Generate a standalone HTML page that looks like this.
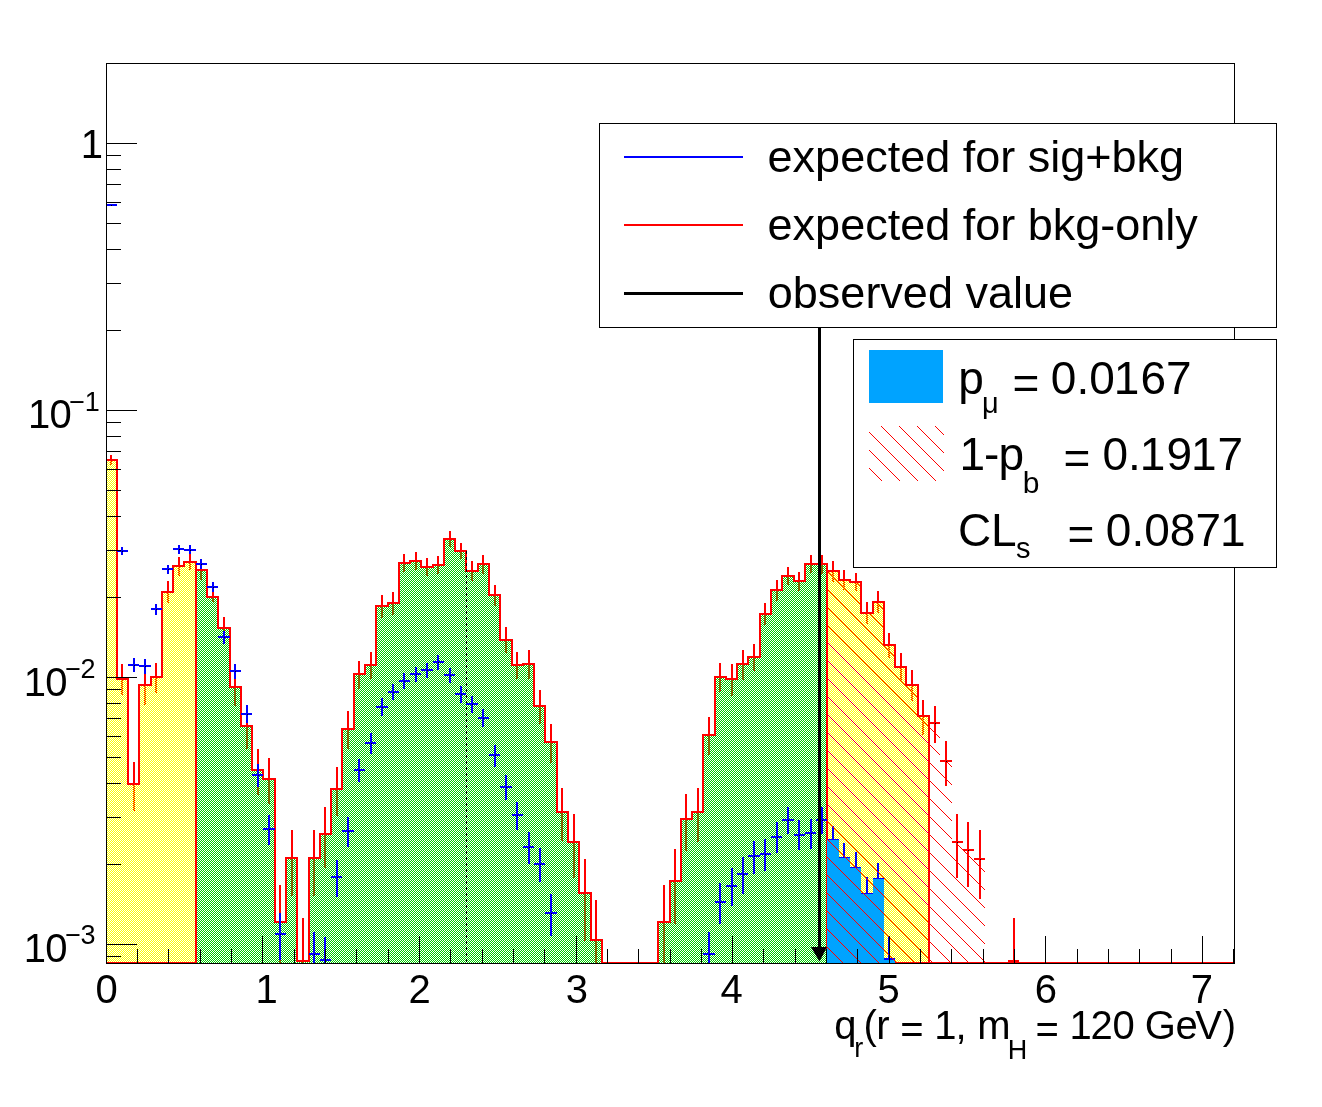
<!DOCTYPE html><html><head><meta charset="utf-8"><style>html,body{margin:0;padding:0;background:#fff;overflow:hidden;}svg{display:block;will-change:transform;} text{font-family:"Liberation Sans",sans-serif;}</style></head><body>
<svg width="1322" height="1107" viewBox="0 0 1322 1107">
<defs>
<pattern id="pg" patternUnits="userSpaceOnUse" x="0" y="0" width="2" height="2"><rect x="1" y="0" width="1" height="1" fill="#00cc00"/><rect x="0" y="1" width="1" height="1" fill="#00cc00"/></pattern>
<pattern id="py" patternUnits="userSpaceOnUse" x="0" y="0" width="2" height="2"><rect x="1" y="0" width="1" height="1" fill="#ffff00"/><rect x="0" y="1" width="1" height="1" fill="#ffff00"/></pattern>
<pattern id="ph" patternUnits="userSpaceOnUse" x="0" y="0" width="18" height="18"><rect x="0" y="13" width="1" height="1" fill="#f00"/><rect x="1" y="14" width="1" height="1" fill="#f00"/><rect x="2" y="15" width="1" height="1" fill="#f00"/><rect x="3" y="16" width="1" height="1" fill="#f00"/><rect x="4" y="17" width="1" height="1" fill="#f00"/><rect x="5" y="0" width="1" height="1" fill="#f00"/><rect x="6" y="1" width="1" height="1" fill="#f00"/><rect x="7" y="2" width="1" height="1" fill="#f00"/><rect x="8" y="3" width="1" height="1" fill="#f00"/><rect x="9" y="4" width="1" height="1" fill="#f00"/><rect x="10" y="5" width="1" height="1" fill="#f00"/><rect x="11" y="6" width="1" height="1" fill="#f00"/><rect x="12" y="7" width="1" height="1" fill="#f00"/><rect x="13" y="8" width="1" height="1" fill="#f00"/><rect x="14" y="9" width="1" height="1" fill="#f00"/><rect x="15" y="10" width="1" height="1" fill="#f00"/><rect x="16" y="11" width="1" height="1" fill="#f00"/><rect x="17" y="12" width="1" height="1" fill="#f00"/></pattern>
<clipPath id="hclip"><polygon points="827,963 827,571 839,571 839,580 850,580 850,582 861,582 861,613 873,613 873,602 884,602 884,645 895,645 895,667 906,667 906,685 918,685 918,716 929,716 929,723 940,723 940,761 952,761 952,842 963,842 963,850 974,850 974,859 985,859 985,963"/></clipPath>
<clipPath id="legclip"><rect x="869" y="426" width="75" height="55"/></clipPath>
</defs>
<rect x="0" y="0" width="1322" height="1107" fill="#fff"/>
<g shape-rendering="crispEdges">
<rect x="110" y="455" width="2" height="10" fill="#f00"/>
<rect x="121" y="664" width="2" height="31" fill="#f00"/>
<rect x="133" y="762" width="2" height="49" fill="#f00"/>
<rect x="144" y="668" width="2" height="37" fill="#f00"/>
<rect x="155" y="663" width="2" height="30" fill="#f00"/>
<rect x="167" y="581" width="2" height="22" fill="#f00"/>
<rect x="178" y="557" width="2" height="19" fill="#f00"/>
<rect x="189" y="554" width="2" height="16" fill="#f00"/>
<rect x="200" y="561" width="2" height="19" fill="#f00"/>
<rect x="212" y="592" width="2" height="10" fill="#f00"/>
<rect x="223" y="617" width="2" height="23" fill="#f00"/>
<rect x="234" y="670" width="2" height="36" fill="#f00"/>
<rect x="246" y="706" width="2" height="43" fill="#f00"/>
<rect x="257" y="749" width="2" height="46" fill="#f00"/>
<rect x="268" y="758" width="2" height="46" fill="#f00"/>
<rect x="279" y="885" width="2" height="78" fill="#f00"/>
<rect x="291" y="830" width="2" height="66" fill="#f00"/>
<rect x="302" y="918" width="2" height="45" fill="#f00"/>
<rect x="313" y="830" width="2" height="66" fill="#f00"/>
<rect x="324" y="807" width="2" height="61" fill="#f00"/>
<rect x="336" y="767" width="2" height="49" fill="#f00"/>
<rect x="347" y="711" width="2" height="38" fill="#f00"/>
<rect x="358" y="661" width="2" height="28" fill="#f00"/>
<rect x="370" y="652" width="2" height="27" fill="#f00"/>
<rect x="381" y="595" width="2" height="23" fill="#f00"/>
<rect x="392" y="592" width="2" height="23" fill="#f00"/>
<rect x="403" y="554" width="2" height="18" fill="#f00"/>
<rect x="415" y="552" width="2" height="18" fill="#f00"/>
<rect x="426" y="558" width="2" height="18" fill="#f00"/>
<rect x="437" y="556" width="2" height="18" fill="#f00"/>
<rect x="449" y="531" width="2" height="16" fill="#f00"/>
<rect x="460" y="543" width="2" height="16" fill="#f00"/>
<rect x="471" y="561" width="2" height="20" fill="#f00"/>
<rect x="482" y="555" width="2" height="19" fill="#f00"/>
<rect x="494" y="585" width="2" height="21" fill="#f00"/>
<rect x="505" y="627" width="2" height="26" fill="#f00"/>
<rect x="516" y="652" width="2" height="27" fill="#f00"/>
<rect x="528" y="650" width="2" height="29" fill="#f00"/>
<rect x="539" y="690" width="2" height="34" fill="#f00"/>
<rect x="550" y="724" width="2" height="39" fill="#f00"/>
<rect x="561" y="788" width="2" height="53" fill="#f00"/>
<rect x="573" y="814" width="2" height="64" fill="#f00"/>
<rect x="584" y="859" width="2" height="82" fill="#f00"/>
<rect x="595" y="900" width="2" height="63" fill="#f00"/>
<rect x="663" y="885" width="2" height="78" fill="#f00"/>
<rect x="674" y="849" width="2" height="75" fill="#f00"/>
<rect x="685" y="794" width="2" height="57" fill="#f00"/>
<rect x="697" y="788" width="2" height="54" fill="#f00"/>
<rect x="708" y="717" width="2" height="38" fill="#f00"/>
<rect x="719" y="663" width="2" height="29" fill="#f00"/>
<rect x="731" y="664" width="2" height="32" fill="#f00"/>
<rect x="742" y="650" width="2" height="30" fill="#f00"/>
<rect x="753" y="644" width="2" height="27" fill="#f00"/>
<rect x="764" y="603" width="2" height="22" fill="#f00"/>
<rect x="776" y="580" width="2" height="21" fill="#f00"/>
<rect x="787" y="567" width="2" height="18" fill="#f00"/>
<rect x="798" y="572" width="2" height="19" fill="#f00"/>
<rect x="810" y="555" width="2" height="18" fill="#f00"/>
<rect x="821" y="555" width="2" height="19" fill="#f00"/>
<rect x="832" y="561" width="2" height="21" fill="#f00"/>
<rect x="843" y="570" width="2" height="20" fill="#f00"/>
<rect x="855" y="573" width="2" height="18" fill="#f00"/>
<rect x="866" y="602" width="2" height="22" fill="#f00"/>
<rect x="877" y="591" width="2" height="22" fill="#f00"/>
<rect x="888" y="633" width="2" height="25" fill="#f00"/>
<rect x="900" y="653" width="2" height="29" fill="#f00"/>
<rect x="911" y="670" width="2" height="31" fill="#f00"/>
<rect x="922" y="700" width="2" height="35" fill="#f00"/>
<polygon points="106,963 106,460 117,460 117,679 128,679 128,784 139,784 139,685 151,685 151,677 162,677 162,592 173,592 173,566 184,566 184,562 196,562 196,963" fill="url(#py)"/>
<polygon points="196,963 196,570 207,570 207,597 218,597 218,628 230,628 230,687 241,687 241,726 252,726 252,770 263,770 263,779 275,779 275,922 286,922 286,858 297,858 297,961 309,961 309,858 320,858 320,834 331,834 331,789 342,789 342,729 354,729 354,674 365,674 365,665 376,665 376,606 388,606 388,603 399,603 399,563 410,563 410,561 421,561 421,567 433,567 433,565 444,565 444,539 455,539 455,551 466,551 466,571 478,571 478,564 489,564 489,595 500,595 500,640 512,640 512,665 523,665 523,664 534,664 534,706 545,706 545,742 557,742 557,812 568,812 568,842 579,842 579,893 591,893 591,940 602,940 602,963 613,963 613,963 624,963 624,963 636,963 636,963 647,963 647,963 658,963 658,922 670,922 670,881 681,881 681,819 692,819 692,812 703,812 703,735 715,735 715,677 726,677 726,679 737,679 737,664 748,664 748,657 760,657 760,614 771,614 771,590 782,590 782,576 794,576 794,581 805,581 805,564 816,564 816,564 827,564 827,963" fill="url(#pg)"/>
<polygon points="827,963 827,571 839,571 839,580 850,580 850,582 861,582 861,613 873,613 873,602 884,602 884,645 895,645 895,667 906,667 906,685 918,685 918,716 929,716 929,963" fill="url(#py)"/>
<path d="M106,460 L117,460 L117,679 L128,679 L128,784 L139,784 L139,685 L151,685 L151,677 L162,677 L162,592 L173,592 L173,566 L184,566 L184,562 L196,562 L196,570 L207,570 L207,597 L218,597 L218,628 L230,628 L230,687 L241,687 L241,726 L252,726 L252,770 L263,770 L263,779 L275,779 L275,922 L286,922 L286,858 L297,858 L297,961 L309,961 L309,858 L320,858 L320,834 L331,834 L331,789 L342,789 L342,729 L354,729 L354,674 L365,674 L365,665 L376,665 L376,606 L388,606 L388,603 L399,603 L399,563 L410,563 L410,561 L421,561 L421,567 L433,567 L433,565 L444,565 L444,539 L455,539 L455,551 L466,551 L466,571 L478,571 L478,564 L489,564 L489,595 L500,595 L500,640 L512,640 L512,665 L523,665 L523,664 L534,664 L534,706 L545,706 L545,742 L557,742 L557,812 L568,812 L568,842 L579,842 L579,893 L591,893 L591,940 L602,940 L602,963 L613,963 L613,963 L624,963 L624,963 L636,963 L636,963 L647,963 L647,963 L658,963 L658,922 L670,922 L670,881 L681,881 L681,819 L692,819 L692,812 L703,812 L703,735 L715,735 L715,677 L726,677 L726,679 L737,679 L737,664 L748,664 L748,657 L760,657 L760,614 L771,614 L771,590 L782,590 L782,576 L794,576 L794,581 L805,581 L805,564 L816,564 L816,564 L827,564 L827,571 L839,571 L839,580 L850,580 L850,582 L861,582 L861,613 L873,613 L873,602 L884,602 L884,645 L895,645 L895,667 L906,667 L906,685 L918,685 L918,716 L929,716 L929,963 L940,963 L940,963 L952,963 L952,963 L963,963 L963,963 L974,963 L974,963 L985,963 L985,963 L997,963 L997,963 L1008,963 L1008,963 L1019,963 L1019,963 L1030,963 L1030,963 L1042,963 L1042,963 L1053,963 L1053,963 L1064,963 L1064,963 L1076,963 L1076,963 L1087,963 L1087,963 L1098,963 L1098,963 L1109,963 L1109,963 L1121,963 L1121,963 L1132,963 L1132,963 L1143,963 L1143,963 L1155,963 L1155,963 L1166,963 L1166,963 L1177,963 L1177,963 L1188,963 L1188,963 L1200,963 L1200,963 L1211,963 L1211,963 L1222,963 L1222,963 L1234,963" fill="none" stroke="#f00" stroke-width="2"/>
<rect x="195" y="562" width="2" height="401" fill="#f00"/>
<rect x="826" y="571" width="2" height="392" fill="#f00"/>
<rect x="827" y="962" width="102" height="1" fill="#f00"/>
<rect x="106" y="962" width="90" height="1" fill="#f00"/>
<line x1="466.5" y1="551" x2="466.5" y2="963" stroke="#000" stroke-width="1" stroke-dasharray="3,3"/>
<rect x="121" y="547" width="2" height="8" fill="#00f"/>
<rect x="117" y="550" width="11" height="2" fill="#00f"/>
<rect x="133" y="658" width="2" height="14" fill="#00f"/>
<rect x="128" y="664" width="11" height="2" fill="#00f"/>
<rect x="144" y="659" width="2" height="15" fill="#00f"/>
<rect x="139" y="665" width="12" height="2" fill="#00f"/>
<rect x="155" y="604" width="2" height="11" fill="#00f"/>
<rect x="151" y="608" width="11" height="2" fill="#00f"/>
<rect x="167" y="565" width="2" height="9" fill="#00f"/>
<rect x="162" y="568" width="11" height="2" fill="#00f"/>
<rect x="178" y="545" width="2" height="9" fill="#00f"/>
<rect x="173" y="548" width="11" height="2" fill="#00f"/>
<rect x="189" y="545" width="2" height="9" fill="#00f"/>
<rect x="184" y="549" width="12" height="2" fill="#00f"/>
<rect x="200" y="559" width="2" height="10" fill="#00f"/>
<rect x="196" y="563" width="11" height="2" fill="#00f"/>
<rect x="212" y="582" width="2" height="10" fill="#00f"/>
<rect x="207" y="586" width="11" height="2" fill="#00f"/>
<rect x="223" y="631" width="2" height="13" fill="#00f"/>
<rect x="218" y="636" width="12" height="2" fill="#00f"/>
<rect x="234" y="664" width="2" height="15" fill="#00f"/>
<rect x="230" y="670" width="11" height="2" fill="#00f"/>
<rect x="246" y="705" width="2" height="18" fill="#00f"/>
<rect x="241" y="713" width="11" height="2" fill="#00f"/>
<rect x="257" y="764" width="2" height="23" fill="#00f"/>
<rect x="252" y="774" width="11" height="2" fill="#00f"/>
<rect x="268" y="815" width="2" height="30" fill="#00f"/>
<rect x="263" y="828" width="12" height="2" fill="#00f"/>
<rect x="279" y="913" width="2" height="47" fill="#00f"/>
<rect x="275" y="933" width="11" height="2" fill="#00f"/>
<rect x="313" y="932" width="2" height="31" fill="#00f"/>
<rect x="309" y="953" width="11" height="2" fill="#00f"/>
<rect x="324" y="937" width="2" height="26" fill="#00f"/>
<rect x="320" y="959" width="11" height="2" fill="#00f"/>
<rect x="336" y="860" width="2" height="37" fill="#00f"/>
<rect x="331" y="876" width="11" height="2" fill="#00f"/>
<rect x="347" y="817" width="2" height="30" fill="#00f"/>
<rect x="342" y="830" width="12" height="2" fill="#00f"/>
<rect x="358" y="759" width="2" height="23" fill="#00f"/>
<rect x="354" y="769" width="11" height="2" fill="#00f"/>
<rect x="370" y="733" width="2" height="21" fill="#00f"/>
<rect x="365" y="742" width="11" height="2" fill="#00f"/>
<rect x="381" y="698" width="2" height="18" fill="#00f"/>
<rect x="376" y="706" width="12" height="2" fill="#00f"/>
<rect x="392" y="684" width="2" height="16" fill="#00f"/>
<rect x="388" y="691" width="11" height="2" fill="#00f"/>
<rect x="403" y="673" width="2" height="16" fill="#00f"/>
<rect x="399" y="680" width="11" height="2" fill="#00f"/>
<rect x="415" y="667" width="2" height="15" fill="#00f"/>
<rect x="410" y="673" width="11" height="2" fill="#00f"/>
<rect x="426" y="663" width="2" height="15" fill="#00f"/>
<rect x="421" y="669" width="12" height="2" fill="#00f"/>
<rect x="437" y="655" width="2" height="15" fill="#00f"/>
<rect x="433" y="661" width="11" height="2" fill="#00f"/>
<rect x="449" y="668" width="2" height="15" fill="#00f"/>
<rect x="444" y="674" width="11" height="2" fill="#00f"/>
<rect x="460" y="686" width="2" height="17" fill="#00f"/>
<rect x="455" y="693" width="11" height="2" fill="#00f"/>
<rect x="471" y="696" width="2" height="17" fill="#00f"/>
<rect x="466" y="703" width="12" height="2" fill="#00f"/>
<rect x="482" y="709" width="2" height="18" fill="#00f"/>
<rect x="478" y="717" width="11" height="2" fill="#00f"/>
<rect x="494" y="745" width="2" height="22" fill="#00f"/>
<rect x="489" y="754" width="11" height="2" fill="#00f"/>
<rect x="505" y="775" width="2" height="25" fill="#00f"/>
<rect x="500" y="786" width="12" height="2" fill="#00f"/>
<rect x="516" y="802" width="2" height="28" fill="#00f"/>
<rect x="512" y="814" width="11" height="2" fill="#00f"/>
<rect x="528" y="832" width="2" height="32" fill="#00f"/>
<rect x="523" y="846" width="11" height="2" fill="#00f"/>
<rect x="539" y="848" width="2" height="34" fill="#00f"/>
<rect x="534" y="863" width="11" height="2" fill="#00f"/>
<rect x="550" y="894" width="2" height="42" fill="#00f"/>
<rect x="545" y="912" width="12" height="2" fill="#00f"/>
<rect x="708" y="932" width="2" height="31" fill="#00f"/>
<rect x="703" y="953" width="12" height="2" fill="#00f"/>
<rect x="719" y="883" width="2" height="41" fill="#00f"/>
<rect x="715" y="901" width="11" height="2" fill="#00f"/>
<rect x="731" y="868" width="2" height="38" fill="#00f"/>
<rect x="726" y="885" width="11" height="2" fill="#00f"/>
<rect x="742" y="857" width="2" height="37" fill="#00f"/>
<rect x="737" y="873" width="11" height="2" fill="#00f"/>
<rect x="753" y="841" width="2" height="33" fill="#00f"/>
<rect x="748" y="855" width="12" height="2" fill="#00f"/>
<rect x="764" y="839" width="2" height="32" fill="#00f"/>
<rect x="760" y="853" width="11" height="2" fill="#00f"/>
<rect x="776" y="822" width="2" height="31" fill="#00f"/>
<rect x="771" y="836" width="11" height="2" fill="#00f"/>
<rect x="787" y="807" width="2" height="27" fill="#00f"/>
<rect x="782" y="819" width="12" height="2" fill="#00f"/>
<rect x="798" y="820" width="2" height="30" fill="#00f"/>
<rect x="794" y="834" width="11" height="2" fill="#00f"/>
<rect x="810" y="819" width="2" height="30" fill="#00f"/>
<rect x="805" y="832" width="11" height="2" fill="#00f"/>
<rect x="821" y="807" width="2" height="27" fill="#00f"/>
<rect x="816" y="819" width="11" height="2" fill="#00f"/>
<rect x="832" y="826" width="2" height="30" fill="#00f"/>
<rect x="827" y="839" width="12" height="2" fill="#00f"/>
<rect x="843" y="843" width="2" height="33" fill="#00f"/>
<rect x="839" y="857" width="11" height="2" fill="#00f"/>
<rect x="855" y="852" width="2" height="35" fill="#00f"/>
<rect x="850" y="867" width="11" height="2" fill="#00f"/>
<rect x="866" y="877" width="2" height="36" fill="#00f"/>
<rect x="861" y="893" width="12" height="2" fill="#00f"/>
<rect x="877" y="863" width="2" height="34" fill="#00f"/>
<rect x="873" y="878" width="11" height="2" fill="#00f"/>
<rect x="888" y="936" width="2" height="27" fill="#00f"/>
<rect x="884" y="958" width="11" height="2" fill="#00f"/>
<rect x="106" y="204" width="11" height="2" fill="#00f"/>
<rect x="122" y="551" width="1" height="1" fill="#000"/>
<rect x="134" y="665" width="1" height="1" fill="#000"/>
<rect x="145" y="666" width="1" height="1" fill="#000"/>
<rect x="156" y="609" width="1" height="1" fill="#000"/>
<rect x="168" y="569" width="1" height="1" fill="#000"/>
<rect x="179" y="549" width="1" height="1" fill="#000"/>
<rect x="190" y="550" width="1" height="1" fill="#000"/>
<rect x="201" y="564" width="1" height="1" fill="#000"/>
<rect x="213" y="587" width="1" height="1" fill="#000"/>
<rect x="224" y="637" width="1" height="1" fill="#000"/>
<rect x="235" y="671" width="1" height="1" fill="#000"/>
<rect x="247" y="714" width="1" height="1" fill="#000"/>
<rect x="258" y="775" width="1" height="1" fill="#000"/>
<rect x="269" y="829" width="1" height="1" fill="#000"/>
<rect x="280" y="934" width="1" height="1" fill="#000"/>
<rect x="314" y="954" width="1" height="1" fill="#000"/>
<rect x="325" y="960" width="1" height="1" fill="#000"/>
<rect x="337" y="877" width="1" height="1" fill="#000"/>
<rect x="348" y="831" width="1" height="1" fill="#000"/>
<rect x="359" y="770" width="1" height="1" fill="#000"/>
<rect x="371" y="743" width="1" height="1" fill="#000"/>
<rect x="382" y="707" width="1" height="1" fill="#000"/>
<rect x="393" y="692" width="1" height="1" fill="#000"/>
<rect x="404" y="681" width="1" height="1" fill="#000"/>
<rect x="416" y="674" width="1" height="1" fill="#000"/>
<rect x="427" y="670" width="1" height="1" fill="#000"/>
<rect x="438" y="662" width="1" height="1" fill="#000"/>
<rect x="450" y="675" width="1" height="1" fill="#000"/>
<rect x="461" y="694" width="1" height="1" fill="#000"/>
<rect x="472" y="704" width="1" height="1" fill="#000"/>
<rect x="483" y="718" width="1" height="1" fill="#000"/>
<rect x="495" y="755" width="1" height="1" fill="#000"/>
<rect x="506" y="787" width="1" height="1" fill="#000"/>
<rect x="517" y="815" width="1" height="1" fill="#000"/>
<rect x="529" y="847" width="1" height="1" fill="#000"/>
<rect x="540" y="864" width="1" height="1" fill="#000"/>
<rect x="551" y="913" width="1" height="1" fill="#000"/>
<rect x="709" y="954" width="1" height="1" fill="#000"/>
<rect x="720" y="902" width="1" height="1" fill="#000"/>
<rect x="732" y="886" width="1" height="1" fill="#000"/>
<rect x="743" y="874" width="1" height="1" fill="#000"/>
<rect x="754" y="856" width="1" height="1" fill="#000"/>
<rect x="765" y="854" width="1" height="1" fill="#000"/>
<rect x="777" y="837" width="1" height="1" fill="#000"/>
<rect x="788" y="820" width="1" height="1" fill="#000"/>
<rect x="799" y="835" width="1" height="1" fill="#000"/>
<rect x="811" y="833" width="1" height="1" fill="#000"/>
<rect x="822" y="820" width="1" height="1" fill="#000"/>
<rect x="833" y="840" width="1" height="1" fill="#000"/>
<rect x="844" y="858" width="1" height="1" fill="#000"/>
<rect x="856" y="868" width="1" height="1" fill="#000"/>
<rect x="867" y="894" width="1" height="1" fill="#000"/>
<rect x="878" y="879" width="1" height="1" fill="#000"/>
<rect x="889" y="959" width="1" height="1" fill="#000"/>
<rect x="111" y="205" width="1" height="1" fill="#000"/>
<polygon points="827,963 827,840 839,840 839,858 850,858 850,868 861,868 861,894 873,894 873,879 884,879 884,960 895,960 895,963" fill="#00a3ff"/>
</g>
<g clip-path="url(#hclip)" shape-rendering="crispEdges" fill="#f00">
<polygon points="820,169.5 1000,349.5 1000,350.5 820,170.5"/>
<polygon points="820,187.5 1000,367.5 1000,368.5 820,188.5"/>
<polygon points="820,205.5 1000,385.5 1000,386.5 820,206.5"/>
<polygon points="820,223.5 1000,403.5 1000,404.5 820,224.5"/>
<polygon points="820,241.5 1000,421.5 1000,422.5 820,242.5"/>
<polygon points="820,259.5 1000,439.5 1000,440.5 820,260.5"/>
<polygon points="820,276.5 1000,456.5 1000,457.5 820,277.5"/>
<polygon points="820,294.5 1000,474.5 1000,475.5 820,295.5"/>
<polygon points="820,312.5 1000,492.5 1000,493.5 820,313.5"/>
<polygon points="820,330.5 1000,510.5 1000,511.5 820,331.5"/>
<polygon points="820,348.5 1000,528.5 1000,529.5 820,349.5"/>
<polygon points="820,366.5 1000,546.5 1000,547.5 820,367.5"/>
<polygon points="820,384.5 1000,564.5 1000,565.5 820,385.5"/>
<polygon points="820,402.5 1000,582.5 1000,583.5 820,403.5"/>
<polygon points="820,420.5 1000,600.5 1000,601.5 820,421.5"/>
<polygon points="820,438.5 1000,618.5 1000,619.5 820,439.5"/>
<polygon points="820,455.5 1000,635.5 1000,636.5 820,456.5"/>
<polygon points="820,473.5 1000,653.5 1000,654.5 820,474.5"/>
<polygon points="820,491.5 1000,671.5 1000,672.5 820,492.5"/>
<polygon points="820,509.5 1000,689.5 1000,690.5 820,510.5"/>
<polygon points="820,527.5 1000,707.5 1000,708.5 820,528.5"/>
<polygon points="820,545.5 1000,725.5 1000,726.5 820,546.5"/>
<polygon points="820,563.5 1000,743.5 1000,744.5 820,564.5"/>
<polygon points="820,581.5 1000,761.5 1000,762.5 820,582.5"/>
<polygon points="820,599.5 1000,779.5 1000,780.5 820,600.5"/>
<polygon points="820,617.5 1000,797.5 1000,798.5 820,618.5"/>
<polygon points="820,634.5 1000,814.5 1000,815.5 820,635.5"/>
<polygon points="820,652.5 1000,832.5 1000,833.5 820,653.5"/>
<polygon points="820,670.5 1000,850.5 1000,851.5 820,671.5"/>
<polygon points="820,688.5 1000,868.5 1000,869.5 820,689.5"/>
<polygon points="820,706.5 1000,886.5 1000,887.5 820,707.5"/>
<polygon points="820,724.5 1000,904.5 1000,905.5 820,725.5"/>
<polygon points="820,742.5 1000,922.5 1000,923.5 820,743.5"/>
<polygon points="820,760.5 1000,940.5 1000,941.5 820,761.5"/>
<polygon points="820,778.5 1000,958.5 1000,959.5 820,779.5"/>
<polygon points="820,796.5 1000,976.5 1000,977.5 820,797.5"/>
<polygon points="820,813.5 1000,993.5 1000,994.5 820,814.5"/>
<polygon points="820,831.5 1000,1011.5 1000,1012.5 820,832.5"/>
<polygon points="820,849.5 1000,1029.5 1000,1030.5 820,850.5"/>
<polygon points="820,867.5 1000,1047.5 1000,1048.5 820,868.5"/>
<polygon points="820,885.5 1000,1065.5 1000,1066.5 820,886.5"/>
<polygon points="820,903.5 1000,1083.5 1000,1084.5 820,904.5"/>
<polygon points="820,921.5 1000,1101.5 1000,1102.5 820,922.5"/>
<polygon points="820,939.5 1000,1119.5 1000,1120.5 820,940.5"/>
<polygon points="820,957.5 1000,1137.5 1000,1138.5 820,958.5"/>
</g>
<g shape-rendering="crispEdges">
<rect x="934" y="706" width="2" height="37" fill="#f00"/>
<rect x="929" y="722" width="11" height="2" fill="#f00"/>
<rect x="945" y="741" width="2" height="45" fill="#f00"/>
<rect x="940" y="760" width="12" height="2" fill="#f00"/>
<rect x="956" y="814" width="2" height="64" fill="#f00"/>
<rect x="952" y="841" width="11" height="2" fill="#f00"/>
<rect x="967" y="822" width="2" height="65" fill="#f00"/>
<rect x="963" y="849" width="11" height="2" fill="#f00"/>
<rect x="979" y="830" width="2" height="69" fill="#f00"/>
<rect x="974" y="858" width="11" height="2" fill="#f00"/>
<rect x="935" y="723" width="1" height="1" fill="#000"/>
<rect x="946" y="761" width="1" height="1" fill="#000"/>
<rect x="957" y="842" width="1" height="1" fill="#000"/>
<rect x="968" y="850" width="1" height="1" fill="#000"/>
<rect x="980" y="859" width="1" height="1" fill="#000"/>
<rect x="1013" y="918" width="2" height="45" fill="#f00"/>
<rect x="1008" y="960" width="11" height="2" fill="#f00"/>
<rect x="818" y="327" width="3" height="620" fill="#000"/>
</g>
<polygon points="811,947 827,947 819.5,961.5" fill="#000"/>
<g shape-rendering="crispEdges" fill="#000">
<rect x="106" y="63" width="1129" height="1"/>
<rect x="106" y="963" width="1129" height="1"/>
<rect x="106" y="63" width="1" height="901"/>
<rect x="1234" y="63" width="1" height="901"/>
<rect x="106" y="936" width="1" height="27"/>
<rect x="137" y="949" width="1" height="14"/>
<rect x="168" y="949" width="1" height="14"/>
<rect x="200" y="949" width="1" height="14"/>
<rect x="231" y="949" width="1" height="14"/>
<rect x="262" y="936" width="1" height="27"/>
<rect x="294" y="949" width="1" height="14"/>
<rect x="325" y="949" width="1" height="14"/>
<rect x="356" y="949" width="1" height="14"/>
<rect x="388" y="949" width="1" height="14"/>
<rect x="419" y="936" width="1" height="27"/>
<rect x="450" y="949" width="1" height="14"/>
<rect x="482" y="949" width="1" height="14"/>
<rect x="513" y="949" width="1" height="14"/>
<rect x="544" y="949" width="1" height="14"/>
<rect x="576" y="936" width="1" height="27"/>
<rect x="607" y="949" width="1" height="14"/>
<rect x="638" y="949" width="1" height="14"/>
<rect x="670" y="949" width="1" height="14"/>
<rect x="701" y="949" width="1" height="14"/>
<rect x="732" y="936" width="1" height="27"/>
<rect x="763" y="949" width="1" height="14"/>
<rect x="795" y="949" width="1" height="14"/>
<rect x="826" y="949" width="1" height="14"/>
<rect x="857" y="949" width="1" height="14"/>
<rect x="889" y="936" width="1" height="27"/>
<rect x="920" y="949" width="1" height="14"/>
<rect x="951" y="949" width="1" height="14"/>
<rect x="983" y="949" width="1" height="14"/>
<rect x="1014" y="949" width="1" height="14"/>
<rect x="1045" y="936" width="1" height="27"/>
<rect x="1077" y="949" width="1" height="14"/>
<rect x="1108" y="949" width="1" height="14"/>
<rect x="1139" y="949" width="1" height="14"/>
<rect x="1171" y="949" width="1" height="14"/>
<rect x="1202" y="936" width="1" height="27"/>
<rect x="1233" y="949" width="1" height="14"/>
<rect x="106" y="143" width="31" height="1"/>
<rect x="106" y="410" width="31" height="1"/>
<rect x="106" y="330" width="15" height="1"/>
<rect x="106" y="283" width="15" height="1"/>
<rect x="106" y="249" width="15" height="1"/>
<rect x="106" y="223" width="15" height="1"/>
<rect x="106" y="202" width="15" height="1"/>
<rect x="106" y="184" width="15" height="1"/>
<rect x="106" y="169" width="15" height="1"/>
<rect x="106" y="155" width="15" height="1"/>
<rect x="106" y="677" width="31" height="1"/>
<rect x="106" y="597" width="15" height="1"/>
<rect x="106" y="550" width="15" height="1"/>
<rect x="106" y="516" width="15" height="1"/>
<rect x="106" y="490" width="15" height="1"/>
<rect x="106" y="469" width="15" height="1"/>
<rect x="106" y="451" width="15" height="1"/>
<rect x="106" y="436" width="15" height="1"/>
<rect x="106" y="422" width="15" height="1"/>
<rect x="106" y="944" width="31" height="1"/>
<rect x="106" y="864" width="15" height="1"/>
<rect x="106" y="817" width="15" height="1"/>
<rect x="106" y="783" width="15" height="1"/>
<rect x="106" y="757" width="15" height="1"/>
<rect x="106" y="736" width="15" height="1"/>
<rect x="106" y="718" width="15" height="1"/>
<rect x="106" y="703" width="15" height="1"/>
<rect x="106" y="689" width="15" height="1"/>
<rect x="106" y="956" width="15" height="1"/>
</g>
<g fill="#000">
<text x="95.60" y="1003.30" font-size="40">0</text>
<text x="255.58" y="1003.30" font-size="40">1</text>
<text x="408.40" y="1003.30" font-size="40">2</text>
<text x="565.70" y="1003.30" font-size="40">3</text>
<text x="720.60" y="1003.30" font-size="40">4</text>
<text x="877.50" y="1003.30" font-size="40">5</text>
<text x="1034.70" y="1003.30" font-size="40">6</text>
<text x="1190.80" y="1003.30" font-size="40">7</text>
<text x="80.78" y="157.90" font-size="40">1</text>
<text x="27.98" y="428.10" font-size="40">1</text>
<text x="49.40" y="428.10" font-size="40">0</text>
<text x="69.30" y="410.90" font-size="27">−</text>
<text x="84.72" y="410.90" font-size="27">1</text>
<text x="23.68" y="695.50" font-size="40">1</text>
<text x="45.20" y="695.50" font-size="40">0</text>
<text x="65.20" y="678.00" font-size="27">−</text>
<text x="80.51" y="678.00" font-size="27">2</text>
<text x="23.68" y="962.00" font-size="40">1</text>
<text x="45.20" y="962.00" font-size="40">0</text>
<text x="65.20" y="944.30" font-size="27">−</text>
<text x="80.58" y="944.30" font-size="27">3</text>
<text x="834.30" y="1039.20" font-size="40">q</text>
<text x="854.25" y="1056.50" font-size="27">r</text>
<text x="863.40" y="1039.20" font-size="40">(</text>
<text x="876.20" y="1039.20" font-size="40">r</text>
<text x="900.30" y="1043.20" font-size="40">=</text>
<text x="934.18" y="1039.20" font-size="40">1</text>
<text x="955.50" y="1039.20" font-size="40">,</text>
<text x="977.20" y="1039.20" font-size="40">m</text>
<text x="1007.64" y="1058.80" font-size="27">H</text>
<text x="1035.40" y="1043.20" font-size="40">=</text>
<text x="1069.38" y="1039.20" font-size="40">1</text>
<text x="1090.50" y="1039.20" font-size="40">2</text>
<text x="1112.40" y="1039.20" font-size="40">0</text>
<text x="1144.70" y="1039.20" font-size="40">G</text>
<text x="1175.50" y="1039.20" font-size="40">e</text>
<text x="1195.15" y="1039.20" font-size="40">V</text>
<text x="1222.70" y="1039.20" font-size="40">)</text>
</g>
<g shape-rendering="crispEdges">
<rect x="599.5" y="123.5" width="677" height="204" fill="#fff" stroke="#000" stroke-width="1"/>
<rect x="624" y="156" width="119" height="2" fill="#00f"/>
<rect x="624" y="224" width="119" height="2" fill="#f00"/>
<rect x="624" y="292" width="119" height="3" fill="#000"/>
</g>
<g fill="#000">
<text x="767.58" y="172.20" font-size="45">expected for sig+bkg</text>
<text x="767.58" y="240.00" font-size="45">expected for bkg-only</text>
<text x="767.80" y="308.00" font-size="45">observed value</text>
</g>
<g shape-rendering="crispEdges">
<rect x="853.5" y="339.5" width="423" height="228" fill="#fff" stroke="#000" stroke-width="1"/>
<rect x="869" y="350" width="74" height="53" fill="#00a3ff"/>
</g>
<g clip-path="url(#legclip)" shape-rendering="crispEdges">
<rect x="860" y="420" width="100" height="70" fill="url(#ph)"/>
</g>
<g fill="#000">
<text x="958.31" y="394.30" font-size="46">p</text>
<text x="982.12" y="413.00" font-size="29">μ</text>
<text x="1012.40" y="398.60" font-size="46">=</text>
<text x="1050.86" y="394.30" font-size="46">0.0</text>
<text x="1113.81" y="394.30" font-size="46">1</text>
<text x="1140.39" y="394.30" font-size="46">67</text>
<text x="959.60" y="470.00" font-size="46">1</text>
<text x="983.93" y="470.00" font-size="46">-</text>
<text x="998.41" y="470.00" font-size="46">p</text>
<text x="1022.65" y="492.90" font-size="30">b</text>
<text x="1063.40" y="474.30" font-size="46">=</text>
<text x="1102.46" y="470.00" font-size="46">0.</text>
<text x="1139.82" y="470.00" font-size="46">1</text>
<text x="1166.41" y="470.00" font-size="46">9</text>
<text x="1190.99" y="470.00" font-size="46">1</text>
<text x="1217.58" y="470.00" font-size="46">7</text>
<text x="957.90" y="546.00" font-size="46">CL</text>
<text x="1016.03" y="557.60" font-size="29">s</text>
<text x="1067.50" y="550.30" font-size="46">=</text>
<text x="1105.86" y="546.00" font-size="46">0.087</text>
<text x="1219.98" y="546.00" font-size="46">1</text>
</g>
</svg></body></html>
